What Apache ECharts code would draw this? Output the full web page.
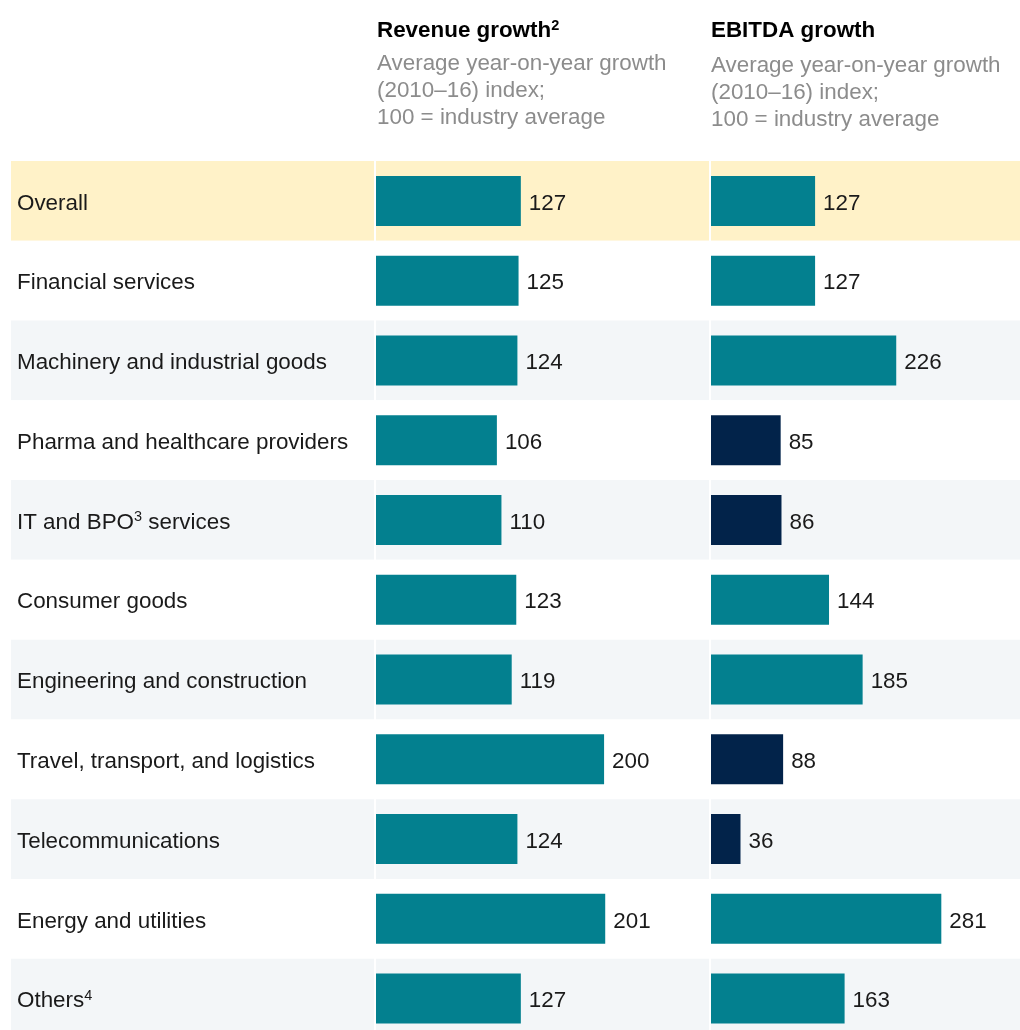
<!DOCTYPE html>
<html>
<head>
<meta charset="utf-8">
<script src="https://cdn.jsdelivr.net/npm/echarts@6/dist/echarts.min.js"></script>
<style>html,body{margin:0;padding:0;background:#fff;overflow:hidden;width:1020px;height:1030px}#c{width:1020px;height:1045px}</style>
</head>
<body>
<div id="c"></div>
<script>
var categories = ['Overall', 'Financial services', 'Machinery and industrial goods', 'Pharma and healthcare providers', 'IT and BPO³ services', 'Consumer goods', 'Engineering and construction', 'Travel, transport, and logistics', 'Telecommunications', 'Energy and utilities', 'Others⁴'];
var revenue = [127, 125, 124, 106, 110, 123, 119, 200, 124, 201, 127];
var ebitda = [127, 127, 226, 85, 86, 144, 185, 88, 36, 281, 163];
var industryAverage = 100;

var FONT = '"Liberation Sans", Arial, sans-serif';
var FS = 22.4;
var TEAL = '#03808F';
var NAVY = '#02234A';
var TXT = '#1a1a1a';
var bandColors = ['#FFF2C8', '#FFFFFF', '#F3F6F8', '#FFFFFF', '#F3F6F8', '#FFFFFF', '#F3F6F8', '#FFFFFF', '#F3F6F8', '#FFFFFF', '#F3F6F8'];
var supMap = {'²': '2', '³': '3', '⁴': '4'};
function richify(s) {
  return s.replace(/([^²³⁴]+)|([²³⁴])/g, function (m, a, b) {
    return a ? '{a|' + a + '}' : '{s|' + supMap[b] + '}';
  });
}
var labelRich = {
  a: {fontSize: FS, fontFamily: FONT, color: TXT, lineHeight: 26},
  s: {fontSize: 14.5, fontFamily: FONT, color: TXT, lineHeight: 15, verticalAlign: 'top'}
};

var gridTop = 161, gridH = 877.5;
var chart = echarts.init(document.getElementById('c'));
function catAxis(gi, showLabel) {
  return {
    type: 'category', gridIndex: gi, data: categories, inverse: true,
    axisLine: {show: false}, axisTick: {show: false},
    axisLabel: showLabel ? {show: true, inside: true, margin: 6, interval: 0, padding: [5, 0, 0, 0], formatter: richify, rich: labelRich} : {show: false, interval: 0},
    splitArea: {show: true, interval: 0, areaStyle: {color: bandColors}},
    splitLine: {show: false}
  };
}
function valAxis(gi, max) {
  return {type: 'value', gridIndex: gi, min: 0, max: max, show: false, splitLine: {show: false}};
}
var subText = 'Average year-on-year growth\n(2010–16) index;\n100 = industry average';
var subStyle = {fontSize: FS, fontFamily: FONT, color: '#8c8c8c', lineHeight: 26.6};
var valueLabel = {show: true, position: 'right', distance: 8, offset: [0, 2.5], fontSize: FS, fontFamily: FONT, color: TXT};
var option = {
  animation: false,
  backgroundColor: '#fff',
  title: [
    {left: 377, top: 18, padding: 0, text: '{b|Revenue growth}{s|2}',
     textStyle: {rich: {b: {fontSize: FS, fontWeight: 'bold', fontFamily: FONT, color: '#000', lineHeight: 26}, s: {fontSize: 14.5, fontWeight: 'bold', fontFamily: FONT, color: '#000', lineHeight: 15, verticalAlign: 'top'}}},
     subtext: subText, subtextStyle: subStyle, itemGap: 9},
    {left: 711, top: 18, padding: 0, text: 'EBITDA growth',
     textStyle: {fontSize: FS, fontWeight: 'bold', fontFamily: FONT, color: '#000', lineHeight: 26},
     subtext: subText, subtextStyle: subStyle, itemGap: 9}
  ],
  grid: [
    {left: 11, top: gridTop, width: 363, height: gridH},
    {left: 376, top: gridTop, width: 333, height: gridH},
    {left: 711, top: gridTop, width: 309, height: gridH}
  ],
  xAxis: [valAxis(0, 1), valAxis(1, 292), valAxis(2, 377)],
  yAxis: [catAxis(0, true), catAxis(1, false), catAxis(2, false)],
  series: [
    {type: 'bar', name: 'Revenue growth', xAxisIndex: 1, yAxisIndex: 1, data: revenue, barWidth: 50,
     itemStyle: {color: TEAL}, label: valueLabel},
    {type: 'bar', name: 'EBITDA growth', xAxisIndex: 2, yAxisIndex: 2, data: ebitda, barWidth: 50,
     itemStyle: {color: function (p) { return p.value < industryAverage ? NAVY : TEAL; }}, label: valueLabel}
  ]
};
chart.setOption(option);
</script>
</body>
</html>
